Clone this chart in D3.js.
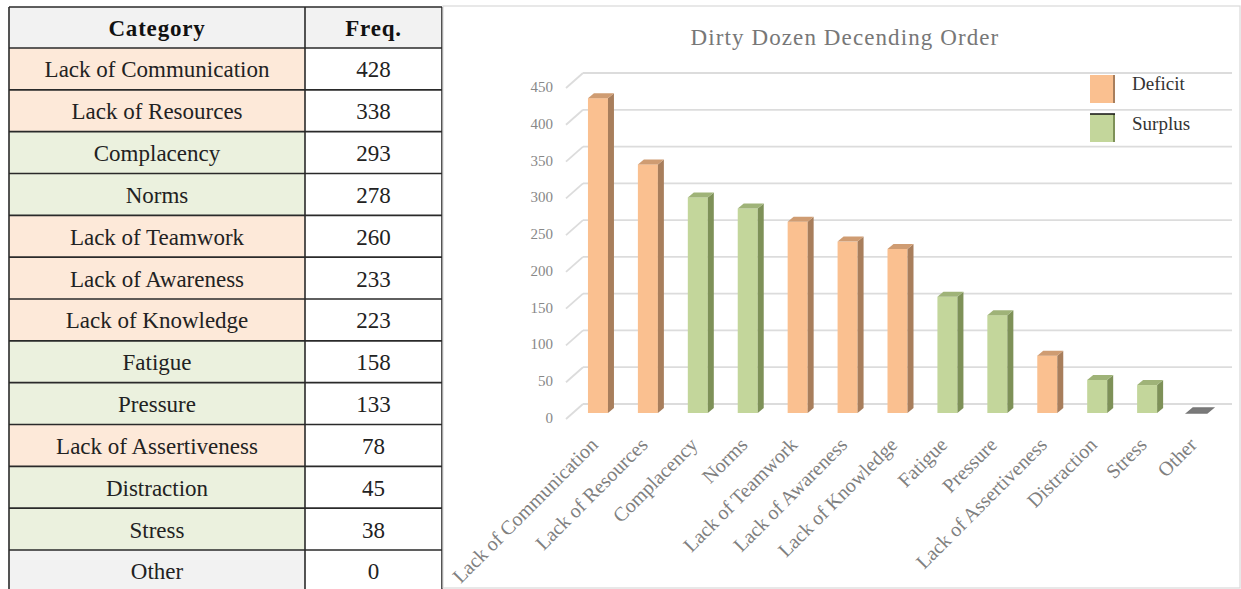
<!DOCTYPE html>
<html><head><meta charset="utf-8">
<script src="https://cdn.jsdelivr.net/npm/d3@7/dist/d3.min.js"></script>
<style>html,body{margin:0;padding:0;background:#fff;}svg{display:block;}</style>
</head><body>
<svg id="c" width="1241" height="589"></svg>
<script>
const categories = ["Lack of Communication","Lack of Resources","Complacency","Norms","Lack of Teamwork","Lack of Awareness","Lack of Knowledge","Fatigue","Pressure","Lack of Assertiveness","Distraction","Stress","Other"];
const freq = [428,338,293,278,260,233,223,158,133,78,45,38,0];
const group = ["Deficit","Deficit","Surplus","Surplus","Deficit","Deficit","Deficit","Surplus","Surplus","Deficit","Surplus","Surplus","Other"];
const yTicks = [0,50,100,150,200,250,300,350,400,450];
const legendLabels = ["Deficit","Surplus"];
const tableHeaders = ["Category","Freq."];
const chartTitle = "Dirty Dozen Decending Order";

(function(){
const data = categories.map((c,i)=>({cat:c, v:freq[i], g:group[i]}));
const svg = d3.select("#c");
const serif = "'Liberation Serif','Times New Roman',serif";

// ---------- Table ----------
const cellFill = {Deficit:"#FDE9D9", Surplus:"#EBF1DE", Other:"#F2F2F2"};
const colX = [9,305,442];
const rowY = d3.scaleLinear().domain([0,12]).range([48,550]);
const rowH = rowY(1)-rowY(0);
const tg = svg.append("g");
tg.append("rect").attr("x",colX[0]).attr("y",7).attr("width",colX[2]-colX[0]).attr("height",41).attr("fill","#F2F2F2");
tableHeaders.forEach((h,j)=>{
  tg.append("text").attr("x",(colX[j]+colX[j+1])/2).attr("y",28).attr("text-anchor","middle")
    .attr("dominant-baseline","central").attr("font-family",serif).attr("font-weight","bold")
    .attr("font-size",23).attr("letter-spacing",0.8).attr("fill","#111").text(h);
});
const rows = tg.selectAll("g.row").data(data).join("g").attr("class","row");
rows.append("rect").attr("x",colX[0]).attr("y",(d,i)=>rowY(i)).attr("width",colX[1]-colX[0])
  .attr("height",(d,i)=> i===12 ? 589-rowY(i) : rowH).attr("fill",d=>cellFill[d.g]);
rows.append("rect").attr("x",colX[1]).attr("y",(d,i)=>rowY(i)).attr("width",colX[2]-colX[1])
  .attr("height",(d,i)=> i===12 ? 589-rowY(i) : rowH).attr("fill","#fff");
rows.append("text").attr("x",(colX[0]+colX[1])/2).attr("y",(d,i)=>rowY(i)+rowH/2+1)
  .attr("text-anchor","middle").attr("dominant-baseline","central").attr("font-family",serif)
  .attr("font-size",23).attr("fill","#222").text(d=>d.cat);
rows.append("text").attr("x",(colX[1]+colX[2])/2).attr("y",(d,i)=>rowY(i)+rowH/2+1)
  .attr("text-anchor","middle").attr("dominant-baseline","central").attr("font-family",serif)
  .attr("font-size",23).attr("fill","#222").text(d=>d.v);
const lineYs = [7].concat(d3.range(13).map(i=>rowY(i)));
tg.selectAll("line.h").data(lineYs).join("line").attr("x1",colX[0]).attr("x2",colX[2])
  .attr("y1",d=>d).attr("y2",d=>d).attr("stroke","#2a2a2a").attr("stroke-width",1.6);
tg.selectAll("line.v").data(colX).join("line").attr("x1",d=>d).attr("x2",d=>d)
  .attr("y1",7).attr("y2",589).attr("stroke","#2a2a2a").attr("stroke-width",1.6);

// ---------- Chart ----------
svg.append("rect").attr("x",443).attr("y",6).attr("width",797).attr("height",582)
  .attr("fill","none").attr("stroke","#d9d9d9").attr("stroke-width",1.2);

const x = d3.scaleBand().domain(categories).range([583,1232]);
const y = d3.scaleLinear().domain([0,450]).range([404,73]);
const sideDx = -17, sideDy = 15;
const frontDx = -10, frontDy = 9;
const barW = 20, depX = 6, depY = -5;

const cg = svg.append("g");
cg.append("text").attr("x",845).attr("y",37).attr("text-anchor","middle").attr("dominant-baseline","central")
  .attr("font-family",serif).attr("font-size",23).attr("letter-spacing",1.1).attr("fill","#777").text(chartTitle);

cg.selectAll("line.grid").data(yTicks).join("line").attr("x1",x.range()[0]).attr("x2",x.range()[1])
  .attr("y1",d=>y(d)).attr("y2",d=>y(d)).attr("stroke","#dcdcdc").attr("stroke-width",1.8);
cg.selectAll("line.diag").data(yTicks).join("line").attr("x1",x.range()[0]+sideDx).attr("x2",x.range()[0])
  .attr("y1",d=>y(d)+sideDy).attr("y2",d=>y(d)).attr("stroke","#dcdcdc").attr("stroke-width",1.8);
cg.selectAll("text.tick").data(yTicks).join("text").attr("x",553).attr("y",d=>y(d)+14)
  .attr("text-anchor","end").attr("dominant-baseline","central").attr("font-family",serif)
  .attr("font-size",15).attr("fill","#888").text(d=>d);

const colors = {
  Deficit:{front:"#FAC090", side:"#A87E5C", top:"#CF9C72"},
  Surplus:{front:"#C3D69B", side:"#7E9158", top:"#9FB378"},
  Other:{front:"#8a8a8a", side:"#6a6a6a", top:"#7a7a7a"}
};
const bars = cg.selectAll("g.bar").data(data).join("g").attr("class","bar");
const cx = d=> x(d.cat)+x.bandwidth()/2 + frontDx;
const bot = y(0)+frontDy;
const barTop = d=> y(d.v)+frontDy;
bars.append("rect").attr("x",d=>cx(d)-barW/2).attr("y",d=>barTop(d)).attr("width",barW)
  .attr("height",d=>bot-barTop(d)).attr("fill",d=>colors[d.g].front);
bars.append("polygon").attr("points",d=>{
  const l=cx(d)+barW/2, t=barTop(d);
  return [[l,t],[l+depX,t+depY],[l+depX,bot+depY],[l,bot]].join(" ");
}).attr("fill",d=>colors[d.g].side);
bars.append("polygon").attr("points",d=>{
  const l=cx(d)-barW/2, r=cx(d)+barW/2, t=barTop(d);
  return [[l,t],[l+depX,t+depY],[r+depX,t+depY],[r,t]].join(" ");
}).attr("fill",d=>colors[d.g].top).attr("stroke",d=>d.v===0?"#777":"none").attr("stroke-width",1.5);

cg.selectAll("text.xl").data(data).join("text")
  .attr("transform",d=>`translate(${cx(d)+1},${446}) rotate(-45)`)
  .attr("text-anchor","end").attr("font-family",serif).attr("font-size",20).attr("fill","#808080")
  .text(d=>d.cat);

const lg = cg.append("g");
legendLabels.forEach((l,i)=>{
  const ly = 75 + i*39;
  lg.append("rect").attr("x",1090).attr("y",ly).attr("width",25).attr("height",28).attr("fill",colors[l].front);
  lg.append("rect").attr("x",1113).attr("y",ly).attr("width",2).attr("height",28).attr("fill",colors[l].side);
  if(l==="Surplus") lg.append("line").attr("x1",1090).attr("x2",1115).attr("y1",ly).attr("y2",ly).attr("stroke","#111").attr("stroke-width",1.5);
  lg.append("text").attr("x",1132).attr("y",ly+15 + (i?1:0)).attr("font-family",serif).attr("font-size",19)
    .attr("fill","#333").text(l);
});
})();
</script>
</body></html>
